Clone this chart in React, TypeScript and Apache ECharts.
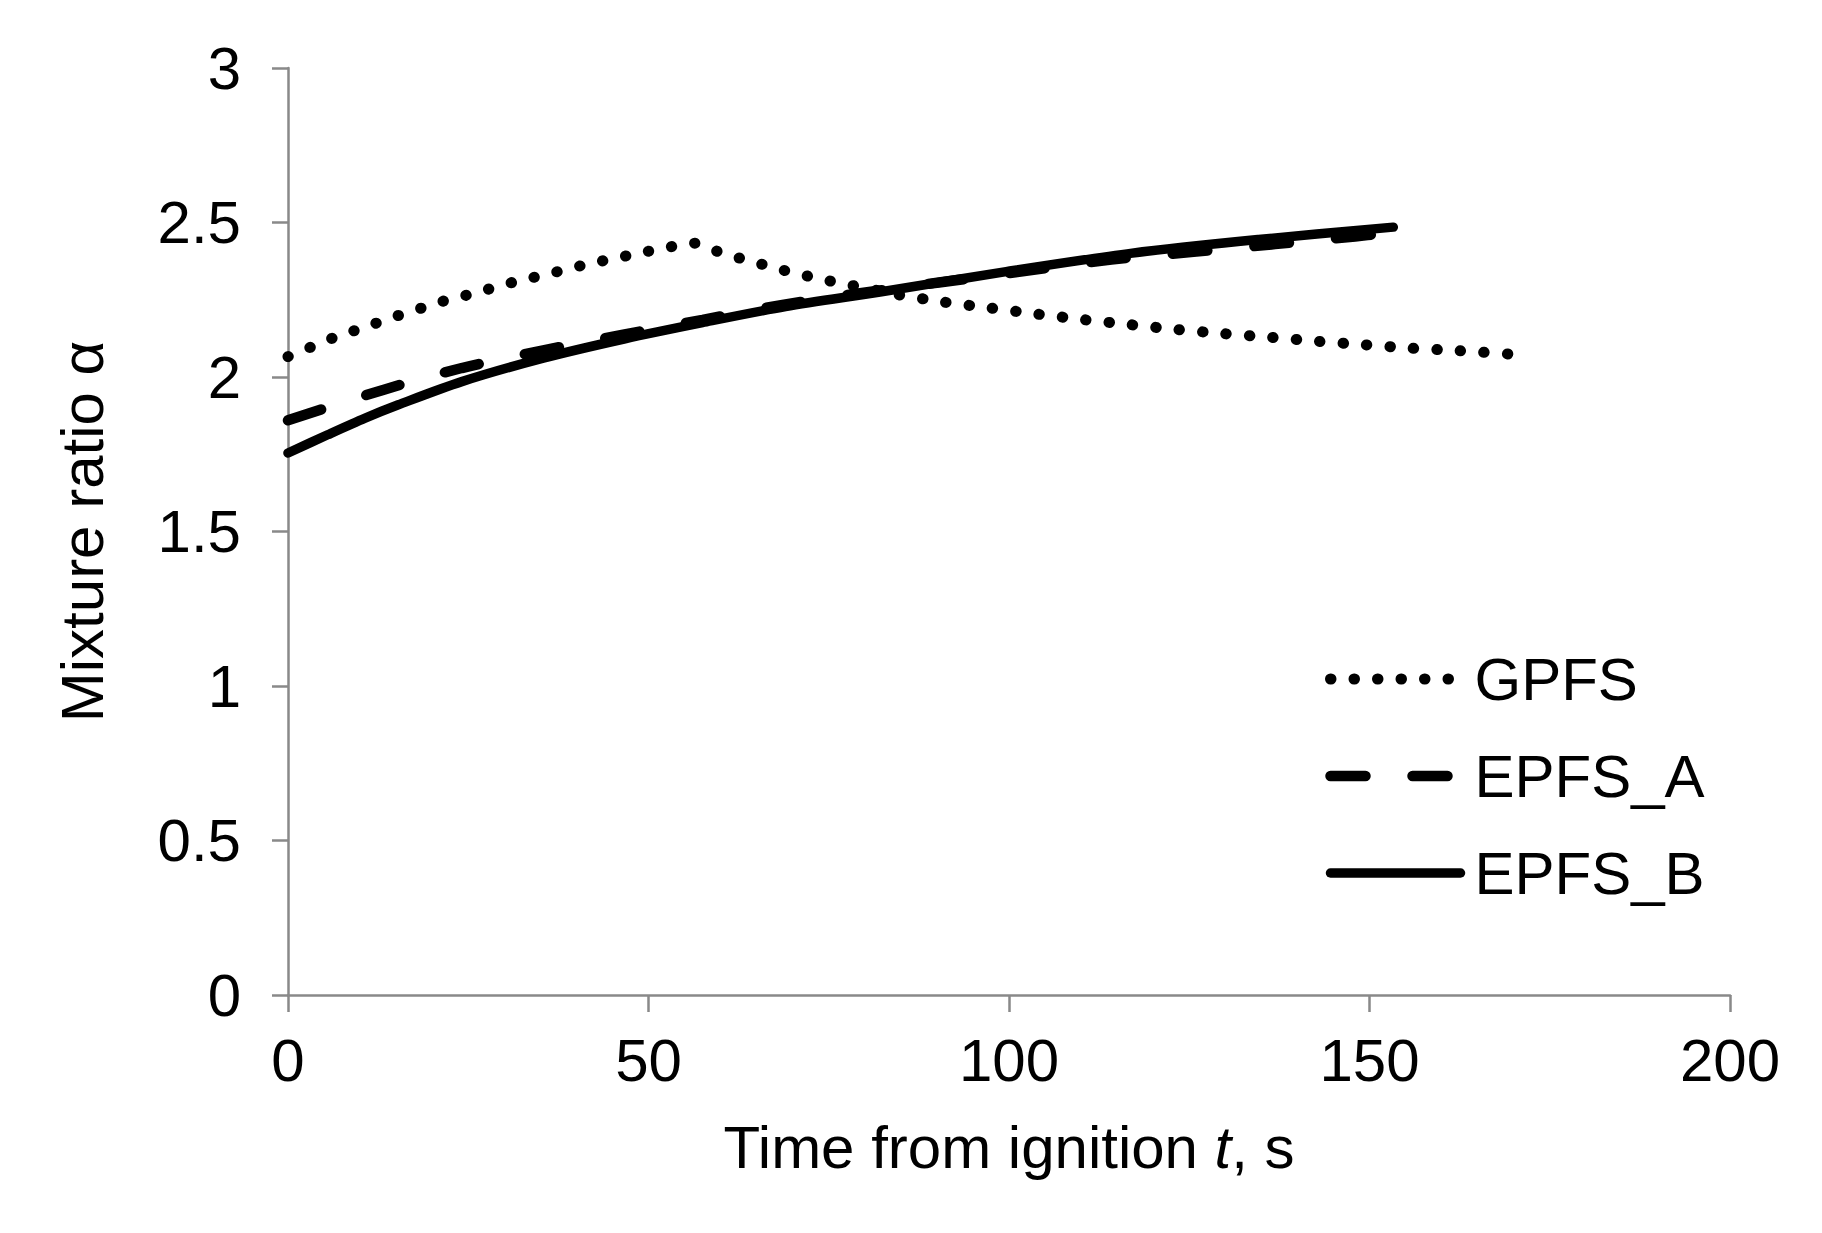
import React, { useEffect, useRef } from "react";
import * as echarts from "echarts";

// ---- Data ----
const X_TICKS = [0, 50, 100, 150, 200];
const Y_TICKS = [0, 0.5, 1, 1.5, 2, 2.5, 3];

const GPFS_T = [0, 3.2, 6.2, 9.2, 12.2, 15.3, 18.5, 21.6, 24.8, 27.9, 31.1, 34.2, 37.4, 40.6, 43.7, 46.9, 50.0, 53.2, 56.4, 59.5, 62.6, 65.7, 68.8, 72.0, 75.1, 78.3, 84.7, 91.1, 97.5, 104.1, 110.6, 117.0, 123.5, 129.9, 136.5, 143.0, 149.5, 155.9, 162.5, 169.5];
const GPFS_A = [2.066, 2.097, 2.126, 2.150, 2.174, 2.199, 2.223, 2.246, 2.265, 2.285, 2.306, 2.323, 2.341, 2.360, 2.376, 2.392, 2.407, 2.422, 2.433, 2.407, 2.385, 2.365, 2.345, 2.327, 2.311, 2.296, 2.266, 2.242, 2.223, 2.203, 2.185, 2.169, 2.153, 2.140, 2.128, 2.115, 2.104, 2.093, 2.085, 2.074];

const EPFSA_T = [0, 13.3, 24.1, 35.4, 46.5, 57.5, 68.8, 81.1, 100.0, 114.2, 125.6, 136.9, 148.0, 152.0];
const EPFSA_A = [1.860, 1.959, 2.029, 2.086, 2.137, 2.185, 2.234, 2.277, 2.336, 2.380, 2.405, 2.430, 2.455, 2.465];

const EPFSB_T = [0, 5.5, 10.7, 15.3, 24.1, 35.4, 46.6, 57.5, 69.0, 82.1, 99.6, 117.1, 134.6, 153.3];
const EPFSB_A = [1.754, 1.813, 1.867, 1.910, 1.985, 2.061, 2.123, 2.176, 2.228, 2.275, 2.341, 2.401, 2.445, 2.485];

const SERIES_NAMES = ["GPFS", "EPFS_A", "EPFS_B"];

const FONT = "'Liberation Sans', Arial, sans-serif";
const AXIS_GRAY = "#898989";

const DOT_STYLE = { color: "#000", width: 11, type: [0.5, 23], cap: "round" };
const DASH_STYLE = { color: "#000", width: 10.5, type: [35, 47], cap: "round" };
const SOLID_STYLE = { color: "#000", width: 9.5, type: "solid", cap: "round" };

function pairs(t: number[], a: number[]) {
  return t.map((v, i) => [v, a[i]]);
}

export default function App() {
  const ref = useRef<HTMLDivElement>(null);

  useEffect(() => {
    if (!ref.current) return;
    const chart = echarts.init(ref.current, undefined, { renderer: "svg" });
    const option: any = {
      animation: false,
      backgroundColor: "#ffffff",
      textStyle: { fontFamily: FONT },
      grid: { left: 288, right: 92, top: 68, bottom: 238, containLabel: false },
      xAxis: {
        type: "value",
        min: X_TICKS[0],
        max: X_TICKS[X_TICKS.length - 1],
        interval: 50,
        name: "Time from ignition {i|t}, s",
        nameLocation: "middle",
        nameGap: 122,
        nameTextStyle: {
          fontSize: 60,
          color: "#000",
          fontFamily: FONT,
          rich: {
            i: { fontSize: 60, fontStyle: "italic", color: "#000", fontFamily: FONT },
          },
        },
        axisLine: { show: true, lineStyle: { color: AXIS_GRAY, width: 2.5 } },
        axisTick: { show: true, inside: false, length: 17, lineStyle: { color: AXIS_GRAY, width: 2.5 } },
        axisLabel: { fontSize: 60, color: "#000", fontFamily: FONT, margin: 35 },
        splitLine: { show: false },
      },
      yAxis: {
        type: "value",
        min: Y_TICKS[0],
        max: Y_TICKS[Y_TICKS.length - 1],
        interval: 0.5,
        name: "Mixture ratio α",
        nameLocation: "middle",
        nameGap: 176,
        nameTextStyle: { fontSize: 60, color: "#000", fontFamily: FONT },
        axisLine: { show: true, lineStyle: { color: AXIS_GRAY, width: 2.5 } },
        axisTick: { show: true, inside: false, length: 16, lineStyle: { color: AXIS_GRAY, width: 2.5 } },
        axisLabel: { fontSize: 60, color: "#000", fontFamily: FONT, margin: 47, padding: [0, 0, 7, 0] },
        splitLine: { show: false },
      },
      legend: {
        orient: "vertical",
        left: 1320,
        top: 644,
        itemWidth: 130,
        itemHeight: 60,
        itemGap: 37,
        data: [
          { name: SERIES_NAMES[0], lineStyle: DOT_STYLE },
          { name: SERIES_NAMES[1], lineStyle: DASH_STYLE },
          { name: SERIES_NAMES[2], lineStyle: SOLID_STYLE },
        ],
        itemStyle: { opacity: 0 },
        textStyle: { fontSize: 60, color: "#000", fontFamily: FONT, padding: [0, 0, 0, 9] },
        selectedMode: false,
      },
      series: [
        {
          name: SERIES_NAMES[0],
          type: "line",
          data: pairs(GPFS_T, GPFS_A),
          symbol: "none",
          smooth: 0.2,
          lineStyle: DOT_STYLE,
          itemStyle: { color: "#000" },
          z: 3,
        },
        {
          name: SERIES_NAMES[1],
          type: "line",
          data: pairs(EPFSA_T, EPFSA_A),
          symbol: "none",
          smooth: 0.3,
          lineStyle: DASH_STYLE,
          itemStyle: { color: "#000" },
          z: 2,
        },
        {
          name: SERIES_NAMES[2],
          type: "line",
          data: pairs(EPFSB_T, EPFSB_A),
          symbol: "none",
          smooth: 0.3,
          lineStyle: SOLID_STYLE,
          itemStyle: { color: "#000" },
          z: 2,
        },
      ],
    };
    chart.setOption(option);
    return () => {
      chart.dispose();
    };
  }, []);

  return (
    <div
      ref={ref}
      style={{ position: "absolute", left: 0, top: 0, width: 1822, height: 1233, background: "#fff" }}
    />
  );
}
